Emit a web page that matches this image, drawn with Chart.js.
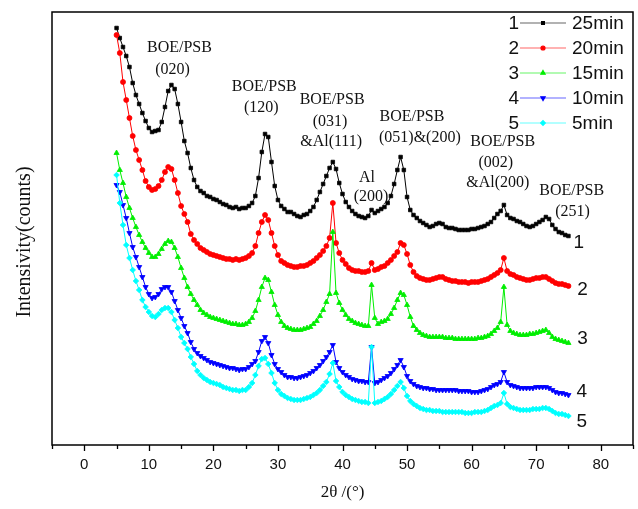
<!DOCTYPE html>
<html>
<head>
<meta charset="utf-8">
<script src="https://cdn.jsdelivr.net/npm/chart.js@4.4.1/dist/chart.umd.min.js"></script>
<style>
  html, body { margin: 0; padding: 0; background: #fff; }
  canvas { display: block; }
</style>
</head>
<body>
<canvas id="xrd" width="638" height="509"></canvas>
<script>
'use strict';

// 2θ sampling positions (degrees)
const twoTheta = [
  5, 5.5, 6, 6.5, 7, 7.5, 8, 8.5, 9, 9.5,
  10, 10.5, 11, 11.5, 12, 12.5, 13, 13.5, 14, 14.5,
  15, 15.5, 16, 16.5, 17, 17.5, 18, 18.5, 19, 19.5,
  20, 20.5, 21, 21.5, 22, 22.5, 23, 23.5, 24, 24.5,
  25, 25.5, 26, 26.5, 27, 27.5, 28, 28.5, 29, 29.5,
  30, 30.5, 31, 31.5, 32, 32.5, 33, 33.5, 34, 34.5,
  35, 35.5, 36, 36.5, 37, 37.5, 38, 38.5, 39, 39.5,
  40, 40.5, 41, 41.5, 42, 42.5, 43, 43.5, 44, 44.5,
  45, 45.5, 46, 46.5, 47, 47.5, 48, 48.5, 49, 49.5,
  50, 50.5, 51, 51.5, 52, 52.5, 53, 53.5, 54, 54.5,
  55, 55.5, 56, 56.5, 57, 57.5, 58, 58.5, 59, 59.5,
  60, 60.5, 61, 61.5, 62, 62.5, 63, 63.5, 64, 64.5,
  65, 65.5, 66, 66.5, 67, 67.5, 68, 68.5, 69, 69.5,
  70, 70.5, 71, 71.5, 72, 72.5, 73, 73.5, 74, 74.5,
  75,
];

// stacked intensities (offset curves, arbitrary counts)
const curve25min = [
  417, 407, 398, 389, 378, 362, 350, 341, 332, 324,
  317, 313, 314, 315, 323, 338, 354, 360, 356, 341,
  323, 304, 292, 277, 265, 258, 254, 252, 249, 248,
  246, 245, 243, 241, 240, 238, 237, 238, 236, 237,
  237, 239, 242, 249, 267, 293, 311, 308, 283, 259,
  245, 239, 236, 233, 233, 231, 229, 228, 230, 231,
  234, 238, 245, 253, 261, 269, 277, 283, 276, 262,
  251, 243, 238, 234, 231, 229, 228, 227, 229, 235,
  232, 234, 236, 238, 242, 249, 261, 275, 288, 275,
  248, 235, 230, 227, 224, 222, 220, 218, 219, 221,
  222, 221, 218, 217, 217, 216, 215, 215, 215, 215,
  216, 216, 217, 218, 219, 221, 223, 227, 231, 234,
  240, 230, 227, 226, 224, 223, 221, 219, 218, 219,
  221, 223, 225, 228, 226, 220, 216, 213, 212, 210,
  209,
];
const curve20min = [
  410, 392, 363, 345, 327, 309, 295, 285, 275, 264,
  258, 255, 256, 259, 265, 273, 278, 276, 265, 252,
  239, 231, 223, 211, 205, 201, 197, 195, 193, 191,
  190, 189, 188, 187, 186, 186, 185, 186, 185, 186,
  187, 189, 192, 199, 212, 223, 230, 225, 212, 199,
  190, 184, 182, 180, 179, 178, 178, 179, 179, 180,
  182, 184, 187, 190, 194, 199, 207, 242, 202, 192,
  185, 181, 177, 175, 174, 174, 173, 173, 174, 182,
  175, 176, 178, 179, 182, 185, 189, 193, 202, 200,
  191, 180, 173, 169, 167, 166, 165, 165, 166, 167,
  168, 168, 166, 165, 164, 164, 163, 163, 163, 162,
  163, 163, 163, 164, 165, 166, 168, 170, 172, 175,
  187, 174, 171, 170, 168, 167, 166, 165, 165, 166,
  167, 167, 168, 168, 166, 164, 162, 161, 161, 160,
  159,
];
const curve15min = [
  292, 275, 262, 248, 237, 227, 218, 210, 203, 197,
  192, 188, 188, 191, 196, 201, 204, 203, 197, 188,
  177, 167, 158, 151, 145, 140, 135, 132, 130, 128,
  127, 126, 125, 124, 123, 122, 121, 121, 120, 120,
  121, 123, 127, 134, 145, 158, 167, 165, 153, 140,
  130, 123, 119, 117, 116, 115, 115, 115, 116, 117,
  118, 121, 124, 129, 135, 143, 151, 213, 152, 142,
  135, 130, 126, 124, 122, 121, 120, 119, 119, 160,
  127, 121, 123, 124, 126, 131, 137, 145, 152, 150,
  140, 128, 119, 115, 112, 110, 109, 108, 108, 108,
  108, 108, 107, 107, 107, 106, 106, 106, 106, 106,
  106, 106, 107, 107, 108, 109, 111, 114, 117, 123,
  158, 120, 114, 112, 111, 110, 110, 110, 111, 111,
  112, 113, 114, 115, 112, 108, 106, 105, 104, 103,
  102,
];
const curve10min = [
  260, 253, 240, 227, 212, 198, 188, 178, 168, 158,
  151, 147, 148, 151, 156, 158, 158, 153, 144, 135,
  127, 119, 112, 103, 96, 92, 89, 87, 85, 83,
  82, 81, 80, 79, 78, 77, 77, 76, 75, 76,
  76, 78, 81, 84, 93, 104, 108, 102, 90, 81,
  76, 73, 70, 68, 68, 67, 67, 68, 69, 70,
  72, 74, 77, 80, 84, 88, 93, 100, 83, 77,
  73, 70, 68, 66, 65, 64, 64, 63, 63, 98,
  62, 63, 65, 67, 69, 72, 76, 80, 85, 78,
  69, 64, 61, 59, 58, 57, 57, 56, 56, 55,
  55, 55, 55, 55, 55, 55, 54, 54, 54, 54,
  53, 53, 53, 54, 55, 56, 58, 60, 61, 63,
  73, 63, 60, 59, 58, 57, 57, 57, 57, 57,
  58, 58, 58, 58, 57, 55, 53, 52, 52, 51,
  50,
];
const curve5min = [
  270, 242, 220, 200, 187, 175, 164, 155, 145, 138,
  133, 129, 128, 131, 135, 137, 137, 133, 125, 117,
  108, 102, 96, 88, 81, 74, 70, 67, 65, 63,
  62, 61, 60, 58, 57, 56, 55, 55, 54, 55,
  55, 58, 62, 70, 79, 86, 87, 81, 72, 62,
  55, 51, 49, 47, 46, 45, 45, 45, 46, 47,
  48, 50, 52, 55, 59, 63, 71, 82, 64, 58,
  53, 50, 48, 46, 45, 44, 43, 43, 42, 98,
  42, 43, 44, 46, 48, 51, 55, 59, 63, 57,
  49, 44, 41, 39, 37, 36, 35, 35, 34, 34,
  34, 33, 33, 33, 33, 33, 33, 33, 32, 32,
  32, 33, 33, 33, 34, 35, 37, 39, 40, 42,
  52, 41, 38, 37, 36, 35, 35, 35, 35, 36,
  36, 36, 37, 37, 36, 34, 32, 31, 31, 30,
  29,
];

const seriesNames = ['25min', '20min', '15min', '10min', '5min'];
const curveNumbers = ['1', '2', '3', '4', '5'];
const xTickLabels = [0, 10, 20, 30, 40, 50, 60, 70, 80];

// peak assignments, anchored in (2θ, intensity)
const peakLabels = [
  { text: 'BOE/PSB', at: [14.74, 397] },
  { text: '(020)', at: [13.66, 375] },
  { text: 'BOE/PSB', at: [27.88, 358] },
  { text: '(120)', at: [27.42, 337] },
  { text: 'BOE/PSB', at: [38.39, 345] },
  { text: '(031)', at: [38.08, 323] },
  { text: '&Al(111)', at: [38.24, 303] },
  { text: 'Al', at: [43.8, 267] },
  { text: '(200)', at: [44.42, 248] },
  { text: 'BOE/PSB', at: [50.76, 328] },
  { text: '(051)&(200)', at: [51.99, 307] },
  { text: 'BOE/PSB', at: [64.82, 303] },
  { text: '(002)', at: [63.74, 282] },
  { text: '&Al(200)', at: [64.05, 262] },
  { text: 'BOE/PSB', at: [75.5, 254] },
  { text: '(251)', at: [75.64, 233] },
];
const curveNumberAt = [
  [76.6, 202],
  [77.2, 155],
  [77.2, 106],
  [77.05, 53],
  [77.05, 23],
];

const colors = ['#000000', '#ff0000', '#00ee00', '#0000ff', '#00ffff'];
const markers = [
  { style: 'rect', rot: 0, r: 2.5 },
  { style: 'circle', rot: 0, r: 2.5 },
  { style: 'triangle', rot: 0, r: 3 },
  { style: 'triangle', rot: 180, r: 3 },
  { style: 'rectRot', rot: 0, r: 2.8 },
];
const curves = [curve25min, curve20min, curve15min, curve10min, curve5min];

const sans = '"Liberation Sans", Arial, sans-serif';
const serif = '"Liberation Serif", "Times New Roman", serif';

const datasets = curves.map((vals, i) => ({
  label: seriesNames[i],
  data: vals.map((y, k) => ({ x: twoTheta[k], y })),
  borderColor: colors[i],
  backgroundColor: colors[i],
  borderWidth: 1,
  pointStyle: markers[i].style,
  rotation: markers[i].rot,
  pointRadius: markers[i].r,
  pointBorderWidth: 0.8,
  pointBackgroundColor: colors[i],
  pointBorderColor: colors[i],
  order: 5 - i,
}));

const drawMarker = function (ctx, i, x, y) {
  Chart.helpers.drawPoint(
    ctx,
    {
      pointStyle: markers[i].style,
      rotation: markers[i].rot,
      radius: markers[i].r - 0.5,
      borderWidth: 0.6,
    },
    x,
    y
  );
};

// frame, ticks, axis title, legend and the text labels
const decorations = {
  id: 'decorations',
  afterDraw(chart) {
    const { ctx, chartArea: a } = chart;
    const xs = chart.scales.x;
    const ys = chart.scales.y;
    ctx.save();

    ctx.strokeStyle = '#000';
    ctx.lineWidth = 1.5;
    ctx.strokeRect(a.left, a.top, a.right - a.left, a.bottom - a.top);

    ctx.lineWidth = 1.3;
    ctx.beginPath();
    for (let v = -5; v <= 85; v += 5) {
      const px = Math.round(xs.getPixelForValue(v)) + 0.5;
      const len = v % 10 === 0 ? 6 : 4;
      ctx.moveTo(px, a.bottom);
      ctx.lineTo(px, a.bottom + len);
    }
    ctx.stroke();

    // y title
    ctx.fillStyle = '#111';
    ctx.font = '20px ' + serif;
    ctx.textAlign = 'center';
    ctx.textBaseline = 'middle';
    ctx.translate(25, 242);
    ctx.rotate(-Math.PI / 2);
    ctx.fillText('Intensivity(counts)', 0, 0);
    ctx.setTransform(1, 0, 0, 1, 0, 0);

    ctx.font = '16px ' + serif;
    peakLabels.forEach(l => {
      ctx.fillText(
        l.text,
        xs.getPixelForValue(l.at[0]),
        ys.getPixelForValue(l.at[1])
      );
    });

    ctx.font = '19px ' + sans;
    curveNumberAt.forEach((p, i) => {
      ctx.fillText(
        curveNumbers[i],
        xs.getPixelForValue(p[0]),
        ys.getPixelForValue(p[1])
      );
    });

    // legend
    chart.data.datasets.forEach((ds, i) => {
      const y = 23 + 25 * i;
      ctx.globalAlpha = 0.6;
      ctx.strokeStyle = ds.borderColor;
      ctx.lineWidth = 1.2;
      ctx.beginPath();
      ctx.moveTo(520, y);
      ctx.lineTo(566, y);
      ctx.stroke();
      ctx.globalAlpha = 1;
      ctx.fillStyle = ds.borderColor;
      ctx.strokeStyle = ds.borderColor;
      drawMarker(ctx, i, 543, y);
      ctx.fillStyle = '#111';
      ctx.font = '19px ' + sans;
      ctx.textAlign = 'right';
      ctx.fillText(curveNumbers[i], 519, y + 1);
      ctx.textAlign = 'left';
      ctx.fillText(ds.label, 572, y + 1);
    });

    ctx.restore();
  },
};

new Chart(document.getElementById('xrd'), {
  type: 'line',
  data: { datasets },
  options: {
    responsive: false,
    animation: false,
    devicePixelRatio: 1,
    layout: { padding: { left: 52, top: 12, right: 5, bottom: 0 } },
    plugins: {
      legend: { display: false },
      tooltip: { enabled: false },
    },
    elements: { line: { tension: 0 } },
    scales: {
      x: {
        type: 'linear',
        min: -5,
        max: 85,
        afterBuildTicks: scale => {
          scale.ticks = xTickLabels.map(v => ({ value: v }));
        },
        afterFit: scale => {
          scale.height = 64;
        },
        grid: { display: false, drawTicks: false },
        border: { display: false },
        ticks: {
          padding: 11,
          color: '#111',
          font: { family: sans, size: 15 },
          maxRotation: 0,
          autoSkip: false,
        },
        title: {
          display: true,
          text: '2θ /(°)',
          color: '#111',
          font: { family: serif, size: 17 },
          padding: { top: 0, bottom: 6 },
        },
      },
      y: {
        display: false,
        min: 0,
        max: 433,
      },
    },
  },
  plugins: [decorations],
});
</script>
</body>
</html>
